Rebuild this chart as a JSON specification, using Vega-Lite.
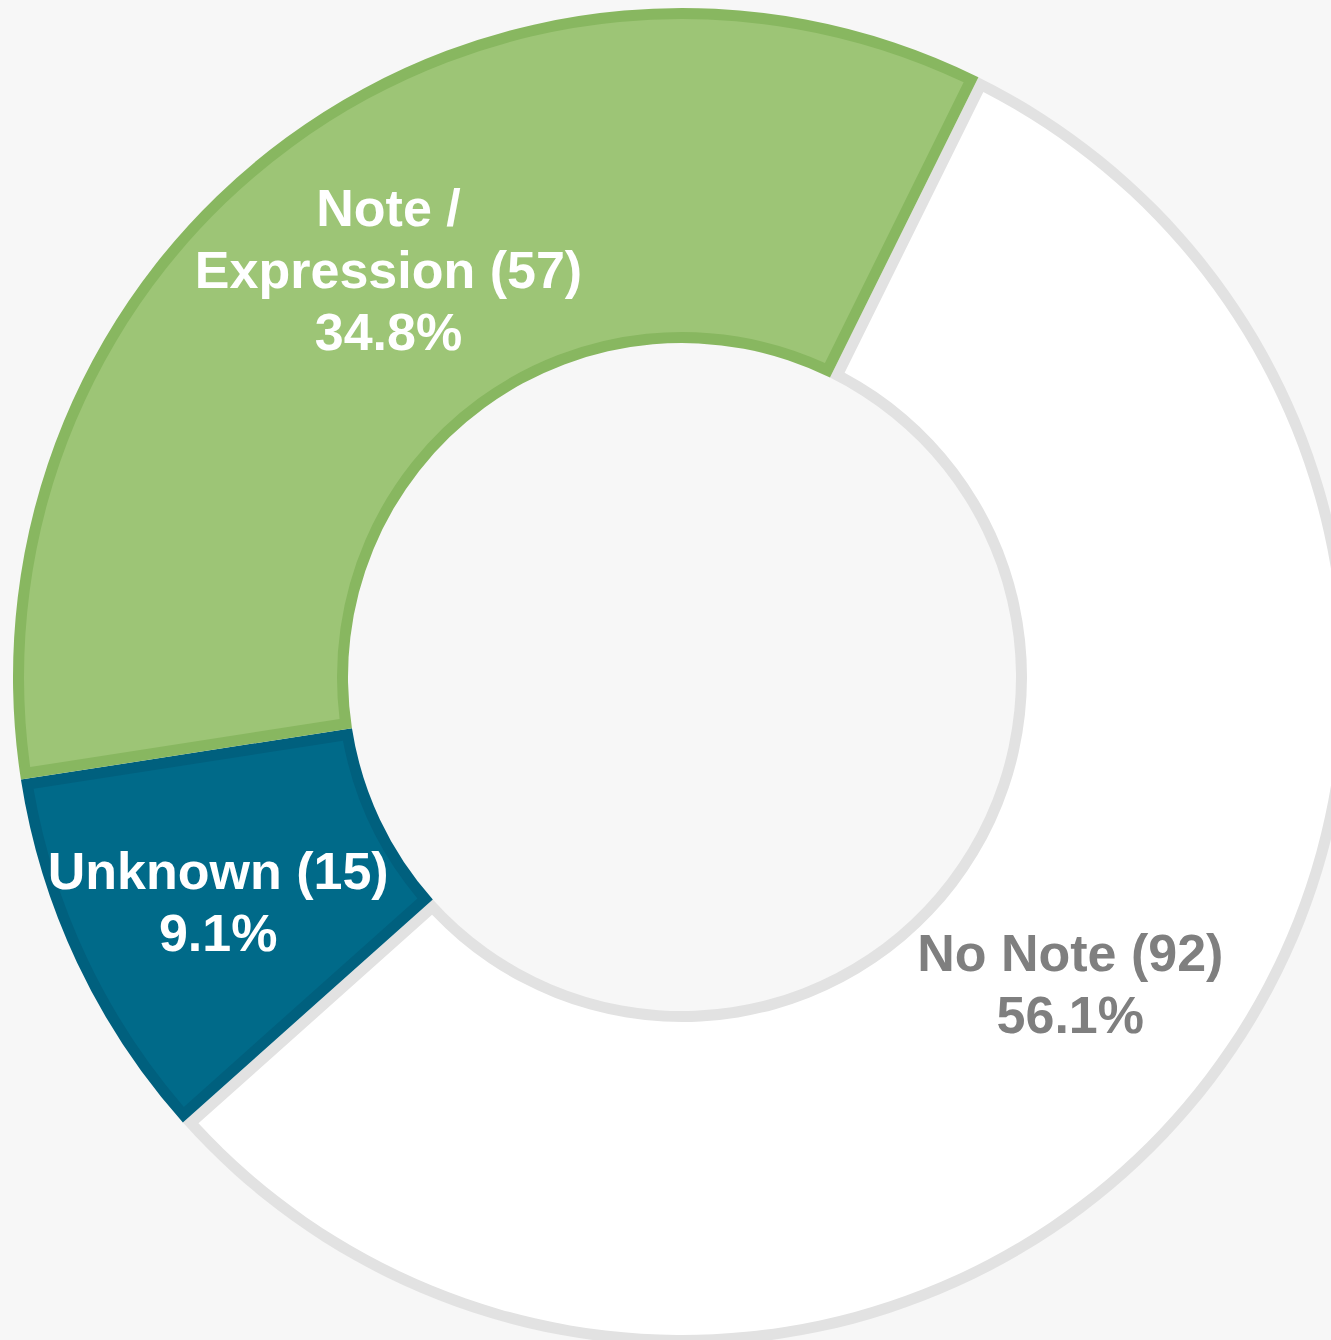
{
  "$schema": "https://vega.github.io/schema/vega-lite/v6.json",
  "autosize": {"type": "none"},
  "width": 1298,
  "height": 1330,
  "padding": {"left": 33, "top": 12, "right": 0, "bottom": 0},
  "background": "#f7f7f7",
  "config": {"view": {"stroke": null}},
  "data": {
    "values": [
      {"category": "No Note", "count": 92, "order": 1, "label": "No Note (92)\n56.1%"},
      {"category": "Unknown", "count": 15, "order": 2, "label": "Unknown (15)\n9.1%"},
      {"category": "Note / Expression", "count": 57, "order": 3, "label": "Note /\nExpression (57)\n34.8%"}
    ]
  },
  "encoding": {
    "theta": {"field": "count", "type": "quantitative", "stack": true, "scale": {"range": [0.459, 6.7422]}},
    "order": {"field": "order", "type": "quantitative", "sort": "ascending"}
  },
  "layer": [
    {
      "mark": {"type": "arc", "outerRadius": 669, "innerRadius": 334},
      "encoding": {
        "color": {"field": "category", "type": "nominal", "legend": null,
          "scale": {"domain": ["No Note", "Unknown", "Note / Expression"], "range": ["#e2e2e2", "#00607e", "#88b760"]}}
      }
    },
    {
      "mark": {"type": "arc", "outerRadius": 658, "innerRadius": 345, "padAngle": 0.0296},
      "encoding": {
        "color": {"field": "category", "type": "nominal", "legend": null,
          "scale": {"domain": ["No Note", "Unknown", "Note / Expression"], "range": ["#ffffff", "#006a89", "#9dc576"]}}
      }
    },
    {
      "mark": {"type": "text", "radius": 503, "dx": 4, "dy": -61, "font": "Liberation Sans", "fontWeight": "bold", "fontSize": 52, "lineHeight": 62, "lineBreak": "\n", "align": "center", "baseline": "middle", "color": "#ffffff"},
      "encoding": {
        "text": {"condition": {"test": "datum.category === 'Note / Expression'", "field": "label"}, "value": ""}
      }
    },
    {
      "mark": {"type": "text", "radius": 503, "dx": -9, "dy": -19, "font": "Liberation Sans", "fontWeight": "bold", "fontSize": 52, "lineHeight": 62, "lineBreak": "\n", "align": "center", "baseline": "middle", "color": "#ffffff"},
      "encoding": {
        "text": {"condition": {"test": "datum.category === 'Unknown'", "field": "label"}, "value": ""}
      }
    },
    {
      "mark": {"type": "text", "radius": 503, "dx": -12, "dy": -27, "font": "Liberation Sans", "fontWeight": "bold", "fontSize": 52, "lineHeight": 62, "lineBreak": "\n", "align": "center", "baseline": "middle", "color": "#7f7f7f"},
      "encoding": {
        "text": {"condition": {"test": "datum.category === 'No Note'", "field": "label"}, "value": ""}
      }
    }
  ],
  "resolve": {"scale": {"color": "independent"}}
}
